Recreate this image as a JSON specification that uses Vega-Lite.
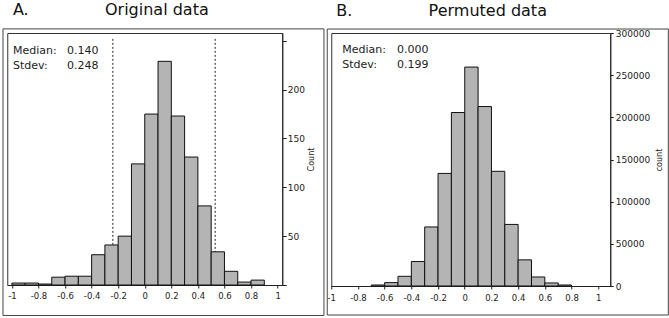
{
  "$schema": "https://vega.github.io/schema/vega-lite/v6.json",
  "padding": {"left": 1.25, "top": 1, "right": 0, "bottom": 0},
  "bounds": "flush",
  "spacing": 49,
  "config": {
    "font": "DejaVu Sans",
    "view": {"stroke": "#333", "strokeWidth": 1},
    "axis": {"grid": false, "labelFont": "DejaVu Sans", "titleFont": "DejaVu Sans", "titleFontWeight": "normal", "labelColor": "#222", "titleColor": "#222", "domainColor": "#222", "tickColor": "#222", "labelFlush": false, "labelOverlap": false, "labelBound": false, "tickCount": 30},
    "title": {"font": "DejaVu Sans", "fontSize": 16, "fontWeight": "normal", "color": "#111", "anchor": "start", "frame": "group", "baseline": "alphabetic"}
  },
  "datasets": {
    "orig": [
      {"start": -1.0, "end": -0.9, "count": 2},
      {"start": -0.9, "end": -0.8, "count": 2},
      {"start": -0.8, "end": -0.7, "count": 1},
      {"start": -0.7, "end": -0.6, "count": 8},
      {"start": -0.6, "end": -0.5, "count": 9},
      {"start": -0.5, "end": -0.4, "count": 9},
      {"start": -0.4, "end": -0.3, "count": 31},
      {"start": -0.3, "end": -0.2, "count": 41},
      {"start": -0.2, "end": -0.1, "count": 50},
      {"start": -0.1, "end": 0.0, "count": 124},
      {"start": 0.0, "end": 0.1, "count": 175},
      {"start": 0.1, "end": 0.2, "count": 229},
      {"start": 0.2, "end": 0.3, "count": 173},
      {"start": 0.3, "end": 0.4, "count": 131},
      {"start": 0.4, "end": 0.5, "count": 81},
      {"start": 0.5, "end": 0.6, "count": 34},
      {"start": 0.6, "end": 0.7, "count": 14},
      {"start": 0.7, "end": 0.8, "count": 3},
      {"start": 0.8, "end": 0.9, "count": 5}
    ],
    "perm": [
      {"start": -0.7, "end": -0.6, "count": 1200},
      {"start": -0.6, "end": -0.5, "count": 4000},
      {"start": -0.5, "end": -0.4, "count": 11500},
      {"start": -0.4, "end": -0.3, "count": 29000},
      {"start": -0.3, "end": -0.2, "count": 70000},
      {"start": -0.2, "end": -0.1, "count": 133500},
      {"start": -0.1, "end": 0.0, "count": 205700},
      {"start": 0.0, "end": 0.1, "count": 259600},
      {"start": 0.1, "end": 0.2, "count": 212800},
      {"start": 0.2, "end": 0.3, "count": 136000},
      {"start": 0.3, "end": 0.4, "count": 73000},
      {"start": 0.4, "end": 0.5, "count": 31000},
      {"start": 0.5, "end": 0.6, "count": 10700},
      {"start": 0.6, "end": 0.7, "count": 3600},
      {"start": 0.7, "end": 0.8, "count": 1200}
    ],
    "boundsA": [{"bound": -0.24}, {"bound": 0.53}],
    "statsA": [{"labels": "Median:\nStdev:", "values": "0.140\n0.248"}],
    "statsB": [{"labels": "Median:\nStdev:", "values": "0.000\n0.199"}]
  },
  "hconcat": [
    {
      "width": 275,
      "height": 252,
      "title": {"text": "A.\u00a0\u00a0\u00a0\u00a0\u00a0\u00a0\u00a0\u00a0\u00a0\u00a0\u00a0\u00a0\u00a0\u00a0\u00a0Original data", "dx": 5.7, "offset": 10},
      "layer": [
        {
          "data": {"values": [{}]},
          "mark": {"type": "rect", "fill": null, "stroke": "#444", "strokeWidth": 1, "clip": false},
          "encoding": {
            "x": {"datum": -1.067, "type": "quantitative"},
            "x2": {"datum": 1.349},
            "y": {"datum": 262.2, "type": "quantitative"},
            "y2": {"datum": -31.2}
          }
        },
        {
          "data": {"name": "boundsA"},
          "mark": {"type": "rule", "stroke": "#222", "strokeWidth": 1, "strokeDash": [2, 2]},
          "encoding": {
            "x": {"field": "bound", "type": "quantitative"},
            "y": {"datum": 252, "type": "quantitative"},
            "y2": {"datum": 0}
          }
        },
        {
          "data": {"name": "orig"},
          "mark": {"type": "bar", "fill": "#b4b4b4", "stroke": "#111", "strokeWidth": 1},
          "encoding": {
            "x": {"field": "start", "type": "quantitative",
              "scale": {"domain": [-1.035, 1.035], "nice": false, "zero": false},
              "axis": {"values": [-1, -0.8, -0.6, -0.4, -0.2, 0, 0.2, 0.4, 0.6, 0.8, 1], "tickCount": 30, "labelExpr": "'' + datum.value", "title": null, "tickSize": 3, "labelPadding": 3, "labelFontSize": 8.5, "labelOverlap": false}},
            "x2": {"field": "end"},
            "y": {"field": "count", "type": "quantitative",
              "scale": {"domain": [0, 258], "nice": false, "zero": false},
              "axis": {"orient": "right", "values": [0, 50, 100, 150, 200, 250], "tickCount": 30, "labelExpr": "datum.value == 0 || datum.value == 250 ? '' : datum.label", "title": "Count", "titleAngle": 270, "titleFontSize": 8, "titlePadding": 11, "tickSize": 4, "labelPadding": 1, "labelFontSize": 9, "labelOverlap": false}},
            "y2": {"datum": 0}
          }
        },
        {
          "data": {"name": "statsA"},
          "mark": {"type": "text", "align": "left", "baseline": "top", "fontSize": 11, "lineHeight": 15, "lineBreak": "\n", "color": "#222"},
          "encoding": {
            "x": {"datum": -0.992, "type": "quantitative"},
            "y": {"datum": 245.7, "type": "quantitative"},
            "text": {"field": "labels"}
          }
        },
        {
          "data": {"name": "statsA"},
          "mark": {"type": "text", "align": "left", "baseline": "top", "fontSize": 11, "lineHeight": 15, "lineBreak": "\n", "color": "#222"},
          "encoding": {
            "x": {"datum": -0.586, "type": "quantitative"},
            "y": {"datum": 245.7, "type": "quantitative"},
            "text": {"field": "values"}
          }
        }
      ]
    },
    {
      "width": 279,
      "height": 253,
      "title": {"text": "B.\u00a0\u00a0\u00a0\u00a0\u00a0\u00a0\u00a0\u00a0\u00a0\u00a0\u00a0\u00a0\u00a0\u00a0\u00a0Permuted data", "dx": 5, "offset": 10},
      "layer": [
        {
          "data": {"values": [{}]},
          "mark": {"type": "rect", "fill": null, "stroke": "#444", "strokeWidth": 1, "clip": false},
          "encoding": {
            "x": {"datum": -1.03, "type": "quantitative"},
            "x2": {"datum": 1.525},
            "y": {"datum": 304700, "type": "quantitative"},
            "y2": {"datum": -34400}
          }
        },
        {
          "data": {"name": "perm"},
          "mark": {"type": "bar", "fill": "#b4b4b4", "stroke": "#111", "strokeWidth": 1},
          "encoding": {
            "x": {"field": "start", "type": "quantitative",
              "scale": {"domain": [-1, 1.09], "nice": false, "zero": false},
              "axis": {"values": [-1, -0.8, -0.6, -0.4, -0.2, 0, 0.2, 0.4, 0.6, 0.8, 1], "tickCount": 30, "labelExpr": "'' + datum.value", "title": null, "tickSize": 3, "labelPadding": 4, "labelFontSize": 8.5, "labelOverlap": false}},
            "x2": {"field": "end"},
            "y": {"field": "count", "type": "quantitative",
              "scale": {"domain": [0, 300000], "nice": false, "zero": false},
              "axis": {"orient": "right", "values": [0, 50000, 100000, 150000, 200000, 250000, 300000], "tickCount": 30, "format": "d", "title": "count", "titleAngle": 270, "titleFontSize": 8, "titlePadding": 14, "tickSize": 3, "labelPadding": 2, "labelFontSize": 9, "labelOverlap": false}},
            "y2": {"datum": 0}
          }
        },
        {
          "data": {"name": "statsB"},
          "mark": {"type": "text", "align": "left", "baseline": "top", "fontSize": 11, "lineHeight": 15, "lineBreak": "\n", "color": "#222"},
          "encoding": {
            "x": {"datum": -0.918, "type": "quantitative"},
            "y": {"datum": 286400, "type": "quantitative"},
            "text": {"field": "labels"}
          }
        },
        {
          "data": {"name": "statsB"},
          "mark": {"type": "text", "align": "left", "baseline": "top", "fontSize": 11, "lineHeight": 15, "lineBreak": "\n", "color": "#222"},
          "encoding": {
            "x": {"datum": -0.508, "type": "quantitative"},
            "y": {"datum": 286400, "type": "quantitative"},
            "text": {"field": "values"}
          }
        }
      ]
    }
  ]
}
